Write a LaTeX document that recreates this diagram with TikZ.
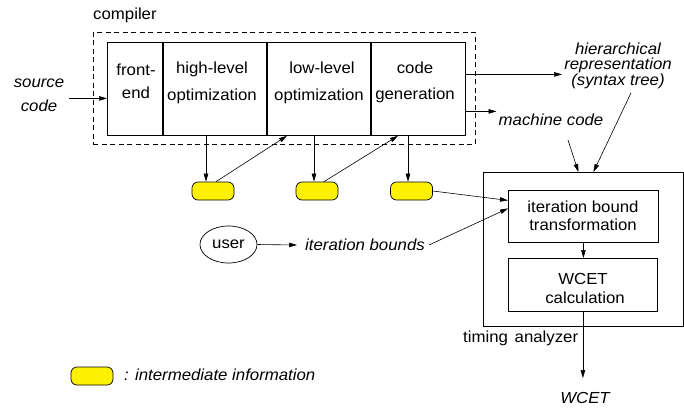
\documentclass[tikz,border=0pt]{standalone}
\usepackage{fontspec}
\setmainfont[FakeStretch=1.05]{Liberation Sans}
\usetikzlibrary{arrows.meta,shapes.geometric}
\begin{document}
\begin{tikzpicture}[x=1pt,y=-1pt,
  every node/.style={font=\fontsize{16}{19}\selectfont, inner sep=2pt},
  arr/.style={-{Triangle[length=8pt,width=4.5pt]}, line width=0.6pt},
  col/.style={draw, line width=0.8pt, anchor=north west, minimum height=93pt, inner sep=0pt},
  info/.style={draw, line width=0.7pt, fill=yellow, rounded corners=6pt, minimum width=42pt, minimum height=18pt, inner sep=0pt},
  box/.style={draw, line width=0.8pt, inner sep=0pt},
  lab/.style={align=center},
  it/.style={font=\fontsize{16}{19}\selectfont\itshape}
]
\useasboundingbox (0,0) rectangle (684,413);

% compiler
\node[anchor=west] (complab) at (91,15) {compiler};
\node[draw, dash pattern=on 5pt off 3.5pt, line width=0.7pt, anchor=north west, minimum width=382pt, minimum height=112pt, inner sep=0pt] (comp) at (93,32) {};
\node[col, minimum width=56pt] (fe) at (107,42) {};
\node[col, minimum width=104pt] (hl) at (163,42) {};
\node[col, minimum width=104pt] (ll) at (267,42) {};
\node[col, minimum width=94pt] (cg) at (371,42) {};
\draw[line width=1.4pt] (hl.north west) -- (hl.south west);
\draw[line width=1.4pt] (ll.north west) -- (ll.south west);
\draw[line width=1.4pt] (cg.north west) -- (cg.south west);

\node[lab, font=\fontsize{16}{23}\selectfont] (feT) at (136,81) {front-\\end};
\node[lab, font=\fontsize{16}{27}\selectfont] (hlT) at (212,83) {high-level\\optimization};
\node[lab, font=\fontsize{16}{27}\selectfont] (llT) at (319,83) {\hspace*{6pt}low-level\\optimization};
\node[lab, font=\fontsize{16}{26}\selectfont] (cgT) at (415,82) {code\\generation};

% source code
\node[lab, font=\fontsize{16}{24}\selectfont\itshape] (src) at (39,95) {source\\code};
\draw[arr] ([yshift=-9.5pt]fe.west -| src.east) ++(3,0) -- ([yshift=-9.5pt]fe.west);

% outputs
\node[lab, font=\fontsize{16}{14.5}\selectfont\itshape] (hier) at (618,66) {hierarchical\\representation\\(syntax tree)};
\node[it] (mc) at (551,120) {machine code};
\draw[arr] ([yshift=14.5pt]cg.east) -- ([yshift=14.5pt]cg.east -| hier.west);
\draw[arr] ([yshift=-22.5pt]cg.east) -- ([yshift=-22.5pt]cg.east -| mc.west);

% intermediate info
\node[info] (y1) at (213,191) {};
\node[info] (y2) at (317,191) {};
\node[info] (y3) at (411.5,191) {};
\draw[arr] ([xshift=-7pt]y1.north |- hl.south) -- ([xshift=-7pt]y1.north);
\draw[arr] ([xshift=3pt]y1.north) -- ([xshift=20pt]ll.south west);
\draw[arr] ([xshift=-3pt]y2.north |- ll.south) -- ([xshift=-3pt]y2.north);
\draw[arr] ([xshift=7pt]y2.north) -- ([xshift=27pt]cg.south west);
\draw[arr] ([xshift=-3.5pt]y3.north |- cg.south) -- ([xshift=-3.5pt]y3.north);

% timing analyzer
\node[box, anchor=north west, minimum width=200pt, minimum height=154pt] (ta) at (483,172) {};
\node[box, anchor=north west, minimum width=150pt, minimum height=52pt] (ib) at (508,190) {};
\node[lab, font=\fontsize{16}{18.5}\selectfont] (ibT) at (583,216) {iteration bound\\transformation};
\node[box, anchor=north west, minimum width=149pt, minimum height=53pt] (wc) at (508,258) {};
\node[lab, font=\fontsize{16}{19}\selectfont] (wcT) at (583,288) {WCET\\\hspace*{4pt}calculation};
\node[anchor=west] (talab) at (461,338) {timing\hspace{2pt} analyzer};
\node[it] (wcet) at (585,398) {WCET};
\draw[arr] (ib.south) -- (ib.south |- wc.north);
\draw[arr, shorten >=12pt] (wc.south) -- (wc.south |- wcet.north);

\draw[arr] (y3.east) -- ([yshift=16pt]ib.west);

% user
\node[draw, ellipse, line width=0.7pt, minimum width=57pt, minimum height=37pt, inner sep=0pt] (user) at (228.5,244.5) {user};
\node[it] (ibs) at (365,245) {iteration bounds};
\draw[arr] (user.east) -- ([xshift=-6pt]ibs.west);
\draw[arr] ([xshift=2pt]ibs.east) -- ([yshift=8pt]ib.west);

% incoming to timing analyzer
\draw[arr] ([xshift=17pt,yshift=-12pt]mc.south) -- ([xshift=-5pt]ta.north);
\draw[arr] ([xshift=13pt,yshift=-2pt]hier.south) -- ([xshift=10pt]ta.north);

% legend
\node[info] (leg) at (92,376) {};
\node[it, anchor=west] (legT) at (122,375) {: intermediate information};
\end{tikzpicture}
\end{document}
